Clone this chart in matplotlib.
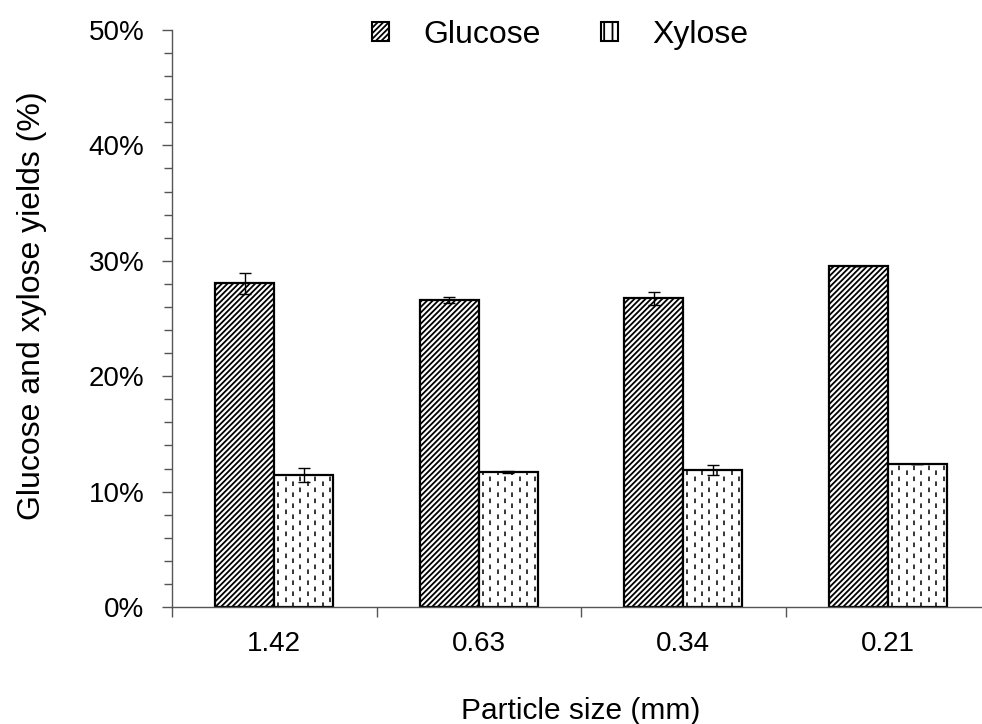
import matplotlib
matplotlib.use('Agg')
import matplotlib.pyplot as plt
from matplotlib.patches import Patch
from matplotlib.ticker import MultipleLocator, FuncFormatter
import numpy as np

# values (%)
sizes = ['1.42', '0.63', '0.34', '0.21']
glucose = [28.05, 26.6, 26.75, 29.55]
glucose_err = [0.9, 0.25, 0.55, 0.0]
xylose = [11.45, 11.72, 11.87, 12.39]
xylose_err = [0.6, 0.08, 0.4, 0.0]

plt.rcParams['font.family'] = ['Liberation Sans', 'DejaVu Sans']
plt.rcParams['hatch.linewidth'] = 1.3

fig = plt.figure(figsize=(9.82, 7.24), dpi=100)
ax = fig.add_axes([172 / 982, 117 / 724, 818 / 982, 577 / 724])

x = np.arange(len(sizes))
w = 0.289

ax.bar(x - w / 2, glucose, w, color='white', edgecolor='black',
       linewidth=1.6, hatch='//////', zorder=2)
xb = ax.bar(x + w / 2, xylose, w, color='white', edgecolor='black',
            linewidth=1.6, zorder=2)

# dashed vertical fill for the xylose bars
for j, rect in enumerate(xb):
    x0 = rect.get_x()
    h = rect.get_height()
    for i in range(8):
        xi = x0 + w * (i + 0.55) / 8
        off = 0 if i % 2 == 0 else 4
        ax.vlines(xi, 0, h, colors='black', linewidth=1.1,
                  linestyles=[(off, (3.0, 4.2))], zorder=2.5)

ax.errorbar(x - w / 2, glucose, yerr=glucose_err, fmt='none', ecolor='black',
            elinewidth=1.0, capsize=4.3, capthick=1.0, zorder=3)
ax.errorbar(x + w / 2, xylose, yerr=xylose_err, fmt='none', ecolor='black',
            elinewidth=1.0, capsize=4.3, capthick=1.0, zorder=3)

ax.set_xlim(-0.5, len(sizes) - 0.5)
ax.set_ylim(0, 50)

ax.yaxis.set_major_locator(MultipleLocator(10))
ax.yaxis.set_minor_locator(MultipleLocator(2))
ax.yaxis.set_major_formatter(FuncFormatter(lambda v, p: f'{v:.0f}%'))

ax.set_xticks(x)
ax.set_xticklabels(sizes)
ax.set_xticks(np.arange(len(sizes) + 1) - 0.5, minor=True)
ax.tick_params(axis='x', which='major', length=0, pad=17, labelsize=20)
ax.tick_params(axis='x', which='minor', length=7, width=1.0, color='#555555')
ax.tick_params(axis='y', which='major', length=7, width=1.0, color='#555555',
               labelsize=20, pad=13)
ax.tick_params(axis='y', which='minor', length=6, width=1.0, color='#555555')

for s in ['top', 'right']:
    ax.spines[s].set_visible(False)
for s in ['left', 'bottom']:
    ax.spines[s].set_color('#555555')
    ax.spines[s].set_linewidth(1.0)

ax.set_xlabel('Particle size (mm)', fontsize=21.5, labelpad=29)
ax.set_ylabel('Glucose and xylose yields (%)', fontsize=23)
ax.yaxis.set_label_coords(-0.153, 0.522)

handles = [Patch(facecolor='white', edgecolor='black', hatch='//////', linewidth=1.5),
           Patch(facecolor='white', edgecolor='black', hatch='||', linewidth=1.5)]
fig.legend(handles, ['Glucose', 'Xylose'], ncol=2, frameon=False, fontsize=23,
           loc='center', bbox_to_anchor=(560 / 982, 1 - 35 / 724),
           handlelength=0.53, handleheight=0.53, handletextpad=1.06, columnspacing=1.9)

fig.savefig('out.png', dpi=100)
